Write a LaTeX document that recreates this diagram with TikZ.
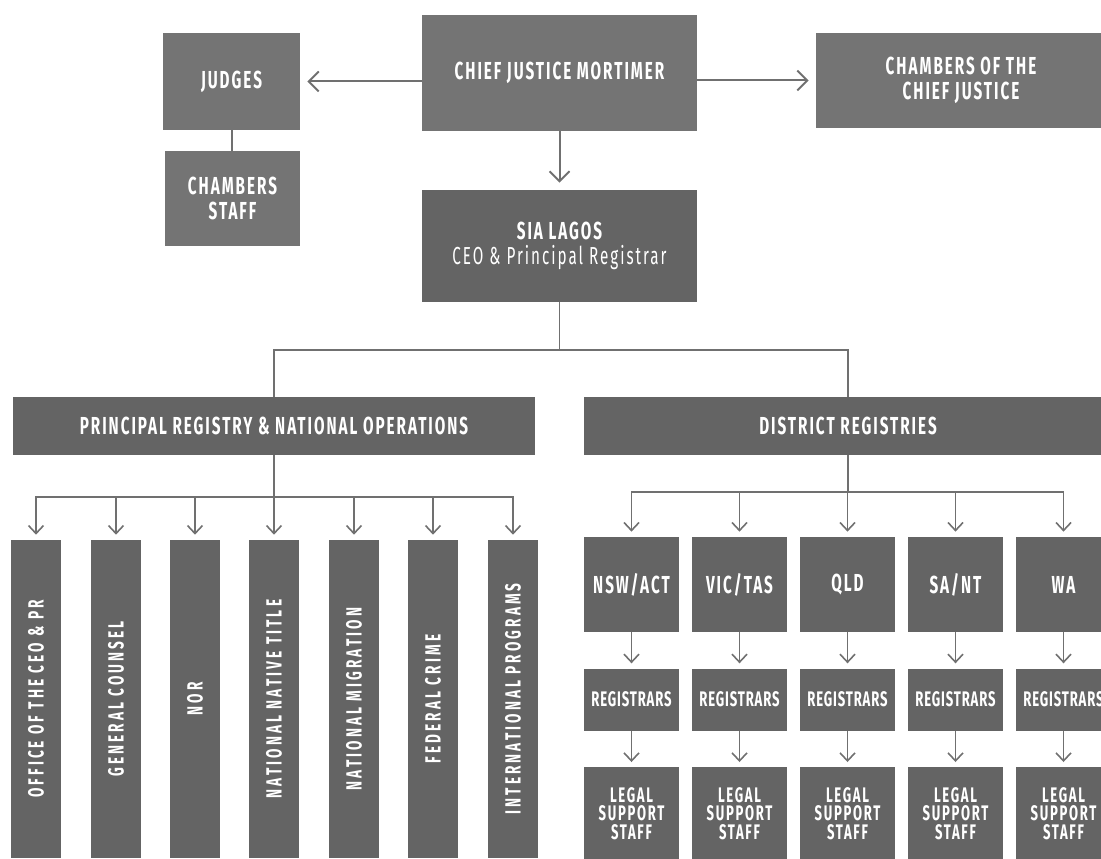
\documentclass[tikz,border=0pt]{standalone}
\usepackage{fontspec}
\setmainfont{Fira Sans}[FakeStretch=0.62, LetterSpace=8]
\usetikzlibrary{arrows.meta, positioning}

\definecolor{boxlight}{HTML}{747474}
\definecolor{boxdark}{HTML}{646464}
\definecolor{linegray}{HTML}{707070}

\tikzstyle{topbox} = [rectangle, fill=boxlight, text=white, align=center, inner sep=0pt, font=\bfseries\fontsize{14}{14.2}\selectfont]
\tikzstyle{midbox} = [topbox, fill=boxdark]
\tikzstyle{distbox} = [midbox, minimum width=1.9cm]
\tikzstyle{colbox} = [rectangle, fill=boxdark, minimum width=1cm, minimum height=6.36cm]
\tikzstyle{collabel} = [rotate=90, text=white, inner sep=0pt, font=\addfontfeature{LetterSpace=14}\bfseries\fontsize{12.5}{13}\selectfont]
\tikzstyle{arrow} = [line width=0.4mm, draw=linegray, -{Straight Barb[length=2mm, width=4mm]}, shorten >=1.4mm]
\tikzstyle{smallarrow} = [line width=0.32mm, draw=linegray, -{Straight Barb[length=1.6mm, width=3mm]}, shorten >=1mm]
\tikzstyle{link} = [line width=0.32mm, draw=linegray]

\begin{document}
\begin{tikzpicture}[x=0.02cm, y=-0.02cm]
    \useasboundingbox (0,0) rectangle (1101,858);

    % top
    \node (cjm) [topbox, minimum width=5.5cm, minimum height=2.32cm] at (559.5,73) {CHIEF JUSTICE MORTIMER};
    \node (judges) [topbox, minimum width=2.74cm, minimum height=1.94cm] at (231.5,81.5) {JUDGES};
    \node (chstaff) [topbox, minimum width=2.7cm, minimum height=1.9cm] at (232.5,198.5) {CHAMBERS\\STAFF};
    \node (chcj) [topbox, minimum width=5.8cm, minimum height=1.9cm] at (961,80.5) {CHAMBERS OF THE\\CHIEF JUSTICE};
    \node (sia) [midbox, minimum width=5.5cm, minimum height=2.24cm] at (559.5,246) {SIA LAGOS\\{\mdseries CEO \& Principal Registrar}};

    % registries
    \node (prno) [midbox, minimum width=10.44cm, minimum height=1.16cm] at (274,426) {PRINCIPAL REGISTRY \& NATIONAL OPERATIONS};
    \node (dist) [midbox, minimum width=10.56cm, minimum height=1.16cm] at (848,426) {DISTRICT REGISTRIES};

    % national operations
    \node (office) [colbox, label={[collabel]center:OFFICE OF THE CEO \& PR}] at (36,699) {};
    \node (counsel) [colbox, label={[collabel]center:GENERAL COUNSEL}] at (116,699) {};
    \node (nor) [colbox, label={[collabel]center:NOR}] at (195,699) {};
    \node (native) [colbox, label={[collabel]center:NATIONAL NATIVE TITLE}] at (274,699) {};
    \node (migration) [colbox, label={[collabel]center:NATIONAL MIGRATION}] at (354,699) {};
    \node (crime) [colbox, label={[collabel]center:FEDERAL CRIME}] at (433,699) {};
    \node (intl) [colbox, label={[collabel]center:INTERNATIONAL PROGRAMS}] at (513,699) {};

    % district registries
    \node (nsw) [distbox, minimum height=1.9cm] at (631.5,584.5) {NSW/ACT};
    \node (vic) [distbox, minimum height=1.9cm] at (739.5,584.5) {VIC/TAS};
    \node (qld) [distbox, minimum height=1.9cm] at (847.5,584.5) {QLD};
    \node (sant) [distbox, minimum height=1.9cm] at (955.5,584.5) {SA/NT};
    \node (wa) [distbox, minimum height=1.9cm] at (1063.5,584.5) {WA};
    \foreach \n in {nsw,vic,qld,sant,wa} {
        \node (reg\n) [distbox, minimum height=1.24cm, font=\addfontfeature{LetterSpace=4}\bfseries\fontsize{12}{12}\selectfont, below=0.72cm of \n] {REGISTRARS};
        \node (legal\n) [distbox, minimum height=1.84cm, font=\bfseries\fontsize{12}{10.6}\selectfont, below=0.72cm of reg\n] {LEGAL\\SUPPORT\\STAFF};
    }

    \draw [arrow] (cjm.west |- judges.east) -- (judges.east);
    \draw [arrow] (cjm.east |- chcj.west) -- (chcj.west);
    \draw [arrow] (cjm.south) -- (sia.north);
    \draw [link, line width=0.4mm] (judges.south) -- (judges.south |- chstaff.north);

    \coordinate (split) at (559.5,350);
    \draw [link] (sia.south) -- (split);
    \draw [link] (prno.north) |- (split) -| (dist.north);

    \coordinate (pbar) at (274,497);
    \foreach \n in {office,counsel,nor,native,migration,crime,intl}
        \draw [smallarrow] (prno.south) -- (pbar) -| (\n.north);

    \coordinate (dbar) at (848,492);
    \foreach \n in {nsw,vic,qld,sant,wa} {
        \draw [smallarrow] (dist.south) -- (dbar) -| (\n.north);
        \draw [smallarrow] (\n.south) -- (reg\n.north);
        \draw [smallarrow] (reg\n.south) -- (legal\n.north);
    }

\end{tikzpicture}
\end{document}
